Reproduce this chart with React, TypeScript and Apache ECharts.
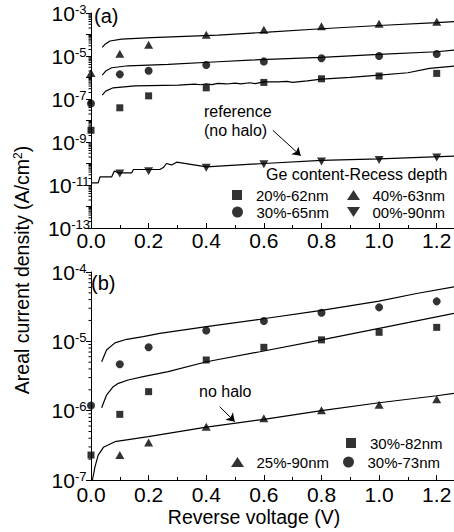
import React, { useEffect, useRef } from 'react';
import * as echarts from 'echarts';

const FONT = '"Liberation Sans", Arial, Helvetica, sans-serif';

// ---------- data ----------
const voltages = [0, 0.1, 0.2, 0.4, 0.6, 0.8, 1.0, 1.2];
const xTickLabels = ['0.0', '0.2', '0.4', '0.6', '0.8', '1.0', '1.2'];

// Panel (a) measured points (A/cm^2)
const jA_20_62 = [3.5e-9, 3.9e-8, 1.4e-7, 3.3e-7, 5.9e-7, 8.7e-7, 1.17e-6, 1.55e-6];
const jA_30_65 = [6.2e-8, 1.4e-6, 2.06e-6, 3.8e-6, 5.6e-6, 7.8e-6, 1.0e-5, 1.24e-5];
const jA_40_63 = [1.6e-6, 1.28e-5, 3.3e-5, 9.7e-5, 1.65e-4, 2.44e-4, 3.15e-4, 3.9e-4];
const jA_00_90 = [null, 3.4e-11, 4.4e-11, 6.3e-11, 9.3e-11, 1.23e-10, 1.47e-10, 1.9e-10];

// Panel (a) simulated curves
const fitA40V = [0.039, 0.0485, 0.066, 0.106, 0.21, 0.441, 0.6, 0.8, 1.0, 1.2, 1.26];
const fitA40J = [2.52e-5, 3.48e-5, 4.97e-5, 6.15e-5, 7.08e-5, 9.44e-5, 1.25e-4, 1.85e-4, 2.62e-4, 3.55e-4, 3.94e-4];
const fitA30V = [0.039, 0.051, 0.072, 0.129, 0.268, 0.441, 0.551, 0.8, 1.0, 1.2, 1.26];
const fitA30J = [1.29e-6, 1.99e-6, 2.84e-6, 3.51e-6, 4.08e-6, 5.39e-6, 6.47e-6, 8.65e-6, 1.19e-5, 1.58e-5, 1.89e-5];
const fitA20V = [0.039, 0.051, 0.077, 0.153, 0.303, 0.36, 0.38, 0.4, 0.42, 0.44, 0.47, 0.5, 0.52, 0.551, 0.57, 0.6, 0.65, 0.68, 0.7, 0.75, 0.8, 0.9, 1.0, 1.1, 1.175, 1.26];
const fitA20J = [1.52e-7, 2.33e-7, 3.32e-7, 4.11e-7, 4.43e-7, 4.93e-7, 4.6e-7, 5.1e-7, 4.7e-7, 5.3e-7, 5.0e-7, 5.5e-7, 5.1e-7, 5.7e-7, 5.2e-7, 6.3e-7, 6.2e-7, 6.6e-7, 5.9e-7, 7.0e-7, 8.4e-7, 1.01e-6, 1.29e-6, 1.66e-6, 2.66e-6, 3.4e-6];
const fitA00V = [0, 0.025, 0.031, 0.072, 0.081, 0.095, 0.141, 0.147, 0.239, 0.251, 0.262, 0.28, 0.297, 0.401, 0.6, 0.8, 1.0, 1.26];
const fitA00J = [1.25e-11, 1.25e-11, 2.4e-11, 2.4e-11, 4.5e-11, 3.65e-11, 3.65e-11, 5.25e-11, 5.25e-11, 6.5e-11, 1.0e-10, 8.6e-11, 1.15e-10, 6.9e-11, 1.0e-10, 1.4e-10, 1.65e-10, 2.2e-10];

// Panel (b) measured points
const jB_30_82 = [2.29e-7, 8.85e-7, 1.88e-6, 5.38e-6, 8.2e-6, 1.05e-5, 1.35e-5, 1.59e-5];
const jB_30_73 = [1.19e-6, 4.67e-6, 8.2e-6, 1.43e-5, 1.97e-5, 2.59e-5, 3.09e-5, 3.77e-5];
const jB_25_90 = [null, 2.29e-7, 3.47e-7, 5.88e-7, 7.77e-7, 1.01e-6, 1.22e-6, 1.46e-6];

// Panel (b) simulated curves
const fitB73V = [0.037, 0.054, 0.083, 0.124, 0.181, 0.239, 0.401, 0.586, 0.8, 1.0, 1.13, 1.26];
const fitB73J = [5.08e-6, 7.5e-6, 9.5e-6, 1.07e-5, 1.17e-5, 1.3e-5, 1.63e-5, 2.08e-5, 2.8e-5, 3.8e-5, 4.9e-5, 6.1e-5];
const fitB82V = [0.037, 0.054, 0.077, 0.095, 0.129, 0.181, 0.268, 0.401, 0.586, 0.8, 1.0, 1.26];
const fitB82J = [1.1e-6, 1.68e-6, 2.22e-6, 2.48e-6, 2.77e-6, 3.09e-6, 3.65e-6, 5.08e-6, 7.08e-6, 1.05e-5, 1.54e-5, 2.54e-5];
const fitB90V = [0.005, 0.014, 0.025, 0.043, 0.083, 0.199, 0.395, 0.6, 0.8, 1.0, 1.2, 1.26];
const fitB90J = [1.0e-7, 1.56e-7, 2.29e-7, 2.96e-7, 3.57e-7, 4.22e-7, 5.75e-7, 7.5e-7, 1.0e-6, 1.3e-6, 1.64e-6, 1.78e-6];

// annotation arrows [V start, J start, V end, J end]
const arrowA = [0.631, 3.5e-9, 0.728, 2.3e-10];
const arrowB = [0.447, 1.14e-6, 0.499, 6.93e-7];

// log-axis minor tick multipliers and decades
const minorMultipliers = [2, 3, 4, 5, 6, 7, 8, 9];
const decadesA = [-13, -12, -11, -10, -9, -8, -7, -6, -5, -4];
const decadesB = [-7, -6, -5];

// ---------- helpers ----------
const SQ = 'path://M0,0H10V10H0Z';
const CI = 'path://M5,0A5,5,0,1,1,5,10A5,5,0,1,1,5,0Z';
const TU = 'path://M6.5,0L13,10H0Z';
const TD = 'path://M0,0H13L6.5,10Z';

const pts = (vals: (number | null)[]) =>
  voltages.map((v, i) => (vals[i] == null ? null : [v, vals[i]])).filter((p) => p !== null);
const curve = (vs: number[], js: number[]) => vs.map((v, i) => [v, js[i]]);

const scatter = (name: string, vals: (number | null)[], symbol: string, size: any, gi: number) => ({
  type: 'scatter',
  name,
  data: pts(vals),
  symbol,
  symbolSize: size,
  xAxisIndex: gi,
  yAxisIndex: gi,
  itemStyle: { color: '#000' },
  z: 3,
  silent: true,
});

const fit = (name: string, vs: number[], js: number[], gi: number, extra: any = {}) => ({
  type: 'line',
  name,
  data: curve(vs, js),
  xAxisIndex: gi,
  yAxisIndex: gi,
  showSymbol: false,
  symbol: 'none',
  lineStyle: { color: '#000', width: 1.2 },
  itemStyle: { color: '#000' },
  z: 2,
  silent: true,
  ...extra,
});

const arrowMark = (a: number[]) => ({
  silent: true,
  symbol: ['none', 'arrow'],
  symbolSize: 8,
  lineStyle: { color: '#000', width: 1, type: 'solid' },
  label: { show: false },
  data: [[{ coord: [a[0], a[1]] }, { coord: [a[2], a[3]] }]],
});

const minorTickSeries = (decades: number[], gi: number) => {
  const data: number[][] = [];
  decades.forEach((e) => minorMultipliers.forEach((k) => data.push([0, k * Math.pow(10, e)])));
  return {
    type: 'custom',
    xAxisIndex: gi,
    yAxisIndex: gi,
    silent: true,
    clip: false,
    encode: { x: 0, y: 1 },
    data,
    renderItem: (_p: any, api: any) => {
      const c = api.coord([0, api.value(1)]);
      return {
        type: 'line',
        shape: { x1: c[0] - 2.5, y1: c[1], x2: c[0], y2: c[1] },
        style: { stroke: '#000', lineWidth: 1 },
      };
    },
  };
};

const legendItem = (name: string, icon: string, cx: number, cy: number, h: number) => ({
  show: true,
  selectedMode: false,
  orient: 'horizontal',
  left: cx - 14,
  top: cy - 8,
  padding: 0,
  itemWidth: 28,
  itemHeight: h,
  itemGap: 0,
  symbolKeepAspect: true,
  textStyle: { fontFamily: FONT, fontSize: 15, color: '#000', lineHeight: 16 },
  data: [{ name, icon }],
});

const xAxis = (gi: number, margin: number) => ({
  type: 'value',
  gridIndex: gi,
  min: 0,
  max: 1.26,
  interval: 0.2,
  axisLine: { show: true, lineStyle: { color: '#000', width: 1 } },
  axisTick: { show: true, inside: true, length: 5, lineStyle: { color: '#000' } },
  minorTick: { show: true, splitNumber: 2, length: 3, lineStyle: { color: '#000' } },
  splitLine: { show: false },
  minorSplitLine: { show: false },
  axisLabel: {
    fontFamily: FONT,
    fontSize: 21,
    color: '#000',
    margin,
    showMaxLabel: false,
    formatter: (v: number) => {
      const k = Math.round(v / 0.2);
      return Math.abs(v - k * 0.2) < 1e-6 ? xTickLabels[k] ?? '' : '';
    },
  },
});

const yAxis = (gi: number, min: number, max: number, every: number) => ({
  type: 'log',
  logBase: 10,
  gridIndex: gi,
  min,
  max,
  interval: 1,
  axisLine: { show: true, lineStyle: { color: '#000', width: 1 } },
  axisTick: { show: true, inside: false, length: 5, lineStyle: { color: '#000' } },
  splitLine: { show: false },
  axisLabel: {
    margin: 22,
    align: 'center',
    formatter: (v: number) => {
      const e = Math.round(Math.log10(v));
      return Math.abs(e) % every === every - 1 || every === 1 ? `{b|10}{s|${e}}` : '';
    },
    rich: {
      b: { fontFamily: FONT, fontSize: 21, lineHeight: 21, verticalAlign: 'bottom', color: '#000' },
      s: { fontFamily: FONT, fontSize: 13, lineHeight: 13, verticalAlign: 'top', padding: [0, 0, 11, 0], color: '#000' },
    },
  },
});

const text = (t: string, x: number, y: number, size: number, align = 'left', extra: any = {}) => ({
  type: 'text',
  x,
  y,
  silent: true,
  style: { text: t, fontFamily: FONT, fontSize: size, fill: '#000', align, verticalAlign: 'middle', ...extra },
});

const option: any = {
  animation: false,
  backgroundColor: '#fff',
  grid: [
    { left: 91, top: 13, width: 363, height: 215, containLabel: false, outerBoundsMode: 'none' },
    { left: 91, top: 272, width: 363, height: 208, containLabel: false, outerBoundsMode: 'none' },
  ],
  xAxis: [xAxis(0, 2), xAxis(1, 4)],
  yAxis: [yAxis(0, 1e-13, 1e-3, 2), yAxis(1, 1e-7, 1e-4, 1)],
  legend: [
    legendItem('20%-62nm', SQ, 246, 195, 10),
    legendItem('40%-63nm', TU, 361, 195, 10),
    legendItem('30%-65nm', CI, 246, 212, 11),
    legendItem('00%-90nm', TD, 361, 212, 10),
    legendItem('30%-82nm', SQ, 360, 443, 10),
    legendItem('25%-90nm', TU, 245, 462, 10),
    legendItem('30%-73nm', CI, 357, 462, 11),
  ],
  series: [
    fit('fit 40%-63nm', fitA40V, fitA40J, 0),
    fit('fit 30%-65nm', fitA30V, fitA30J, 0),
    fit('fit 20%-62nm', fitA20V, fitA20J, 0),
    fit('fit 00%-90nm', fitA00V, fitA00J, 0, { markLine: arrowMark(arrowA) }),
    scatter('20%-62nm', jA_20_62, 'rect', 7, 0),
    scatter('30%-65nm', jA_30_65, 'circle', 8, 0),
    scatter('40%-63nm', jA_40_63, 'triangle', [9, 8], 0),
    scatter('00%-90nm', jA_00_90, TD, [9, 8], 0),
    fit('fit 30%-73nm', fitB73V, fitB73J, 1),
    fit('fit 30%-82nm', fitB82V, fitB82J, 1),
    fit('fit 25%-90nm', fitB90V, fitB90J, 1, { markLine: arrowMark(arrowB) }),
    scatter('30%-82nm', jB_30_82, 'rect', 7, 1),
    scatter('30%-73nm', jB_30_73, 'circle', 8, 1),
    scatter('25%-90nm', jB_25_90, 'triangle', [9, 8], 1),
    minorTickSeries(decadesA, 0),
    minorTickSeries(decadesB, 1),
  ],
  graphic: [
    text('(a)', 94, 16, 20),
    text('(b)', 91, 283, 20),
    text('reference', 204, 111, 16),
    text('(no halo)', 204, 130.5, 16),
    text('Ge content-Recess depth', 266, 174, 16),
    text('no halo', 199, 391, 16),
    text('Reverse voltage (V)', 254, 517, 19.5, 'center'),
    {
      type: 'text',
      x: 22,
      y: 270,
      rotation: Math.PI / 2,
      silent: true,
      style: {
        text: '{n|Areal current density (A/cm}{s|2}{n|)}',
        align: 'center',
        verticalAlign: 'middle',
        fill: '#000',
        rich: {
          n: { fontFamily: FONT, fontSize: 19.5, lineHeight: 20, verticalAlign: 'bottom', fill: '#000' },
          s: { fontFamily: FONT, fontSize: 12, lineHeight: 12, verticalAlign: 'top', fill: '#000' },
        },
      },
    },
  ],
};

export default function App() {
  const ref = useRef<HTMLDivElement>(null);
  useEffect(() => {
    const chart = echarts.init(ref.current as HTMLDivElement, null, { renderer: 'svg' });
    chart.setOption(option);
    return () => chart.dispose();
  }, []);
  return (
    <div
      ref={ref}
      style={{ position: 'fixed', left: 0, top: 0, width: 454, height: 532, background: '#fff' }}
    />
  );
}
